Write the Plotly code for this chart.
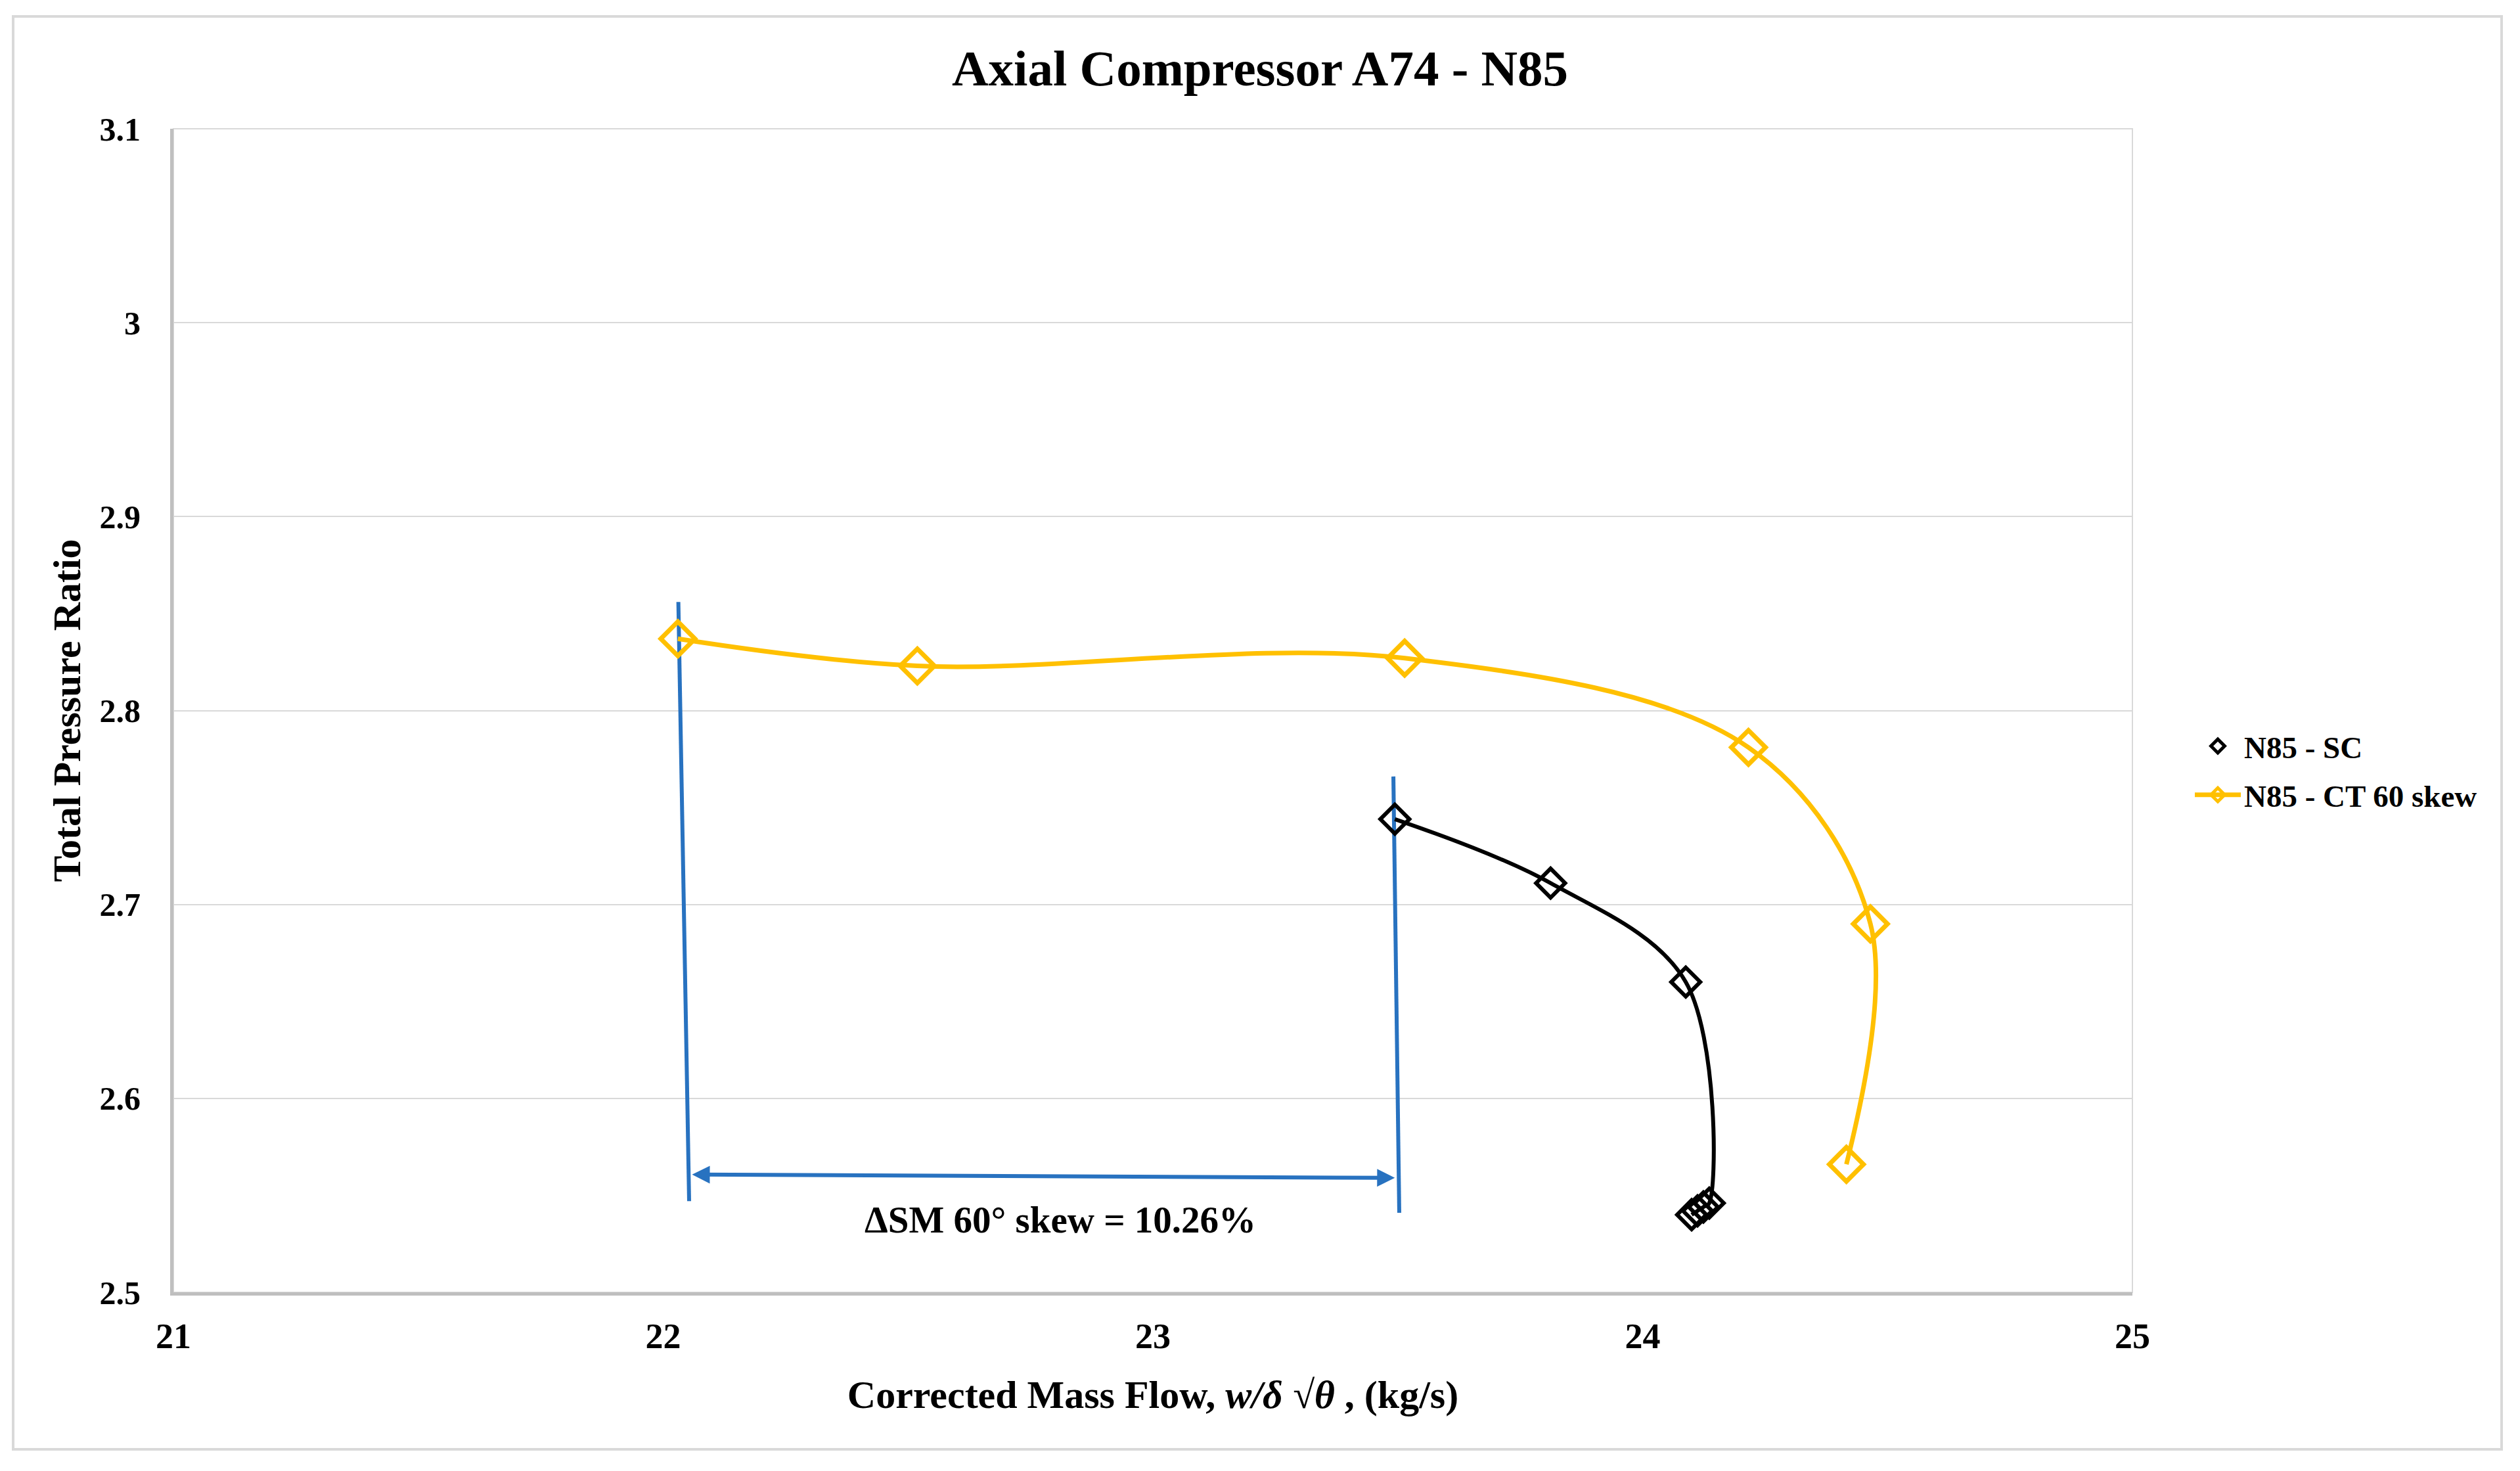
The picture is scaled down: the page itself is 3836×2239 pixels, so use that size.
import plotly.graph_objects as go

# ---- data ----
sc_flow = [23.494, 23.812, 24.088, 24.136, 24.124, 24.112, 24.100]
sc_pr = [2.744, 2.711, 2.660, 2.546, 2.544, 2.542, 2.540]

ct_flow = [22.030, 22.519, 23.514, 24.216, 24.465, 24.416]
ct_pr = [2.837, 2.823, 2.827, 2.781, 2.690, 2.566]

surge_x_ct = [22.031, 22.053]
surge_y_ct = [2.856, 2.547]
surge_x_sc = [23.491, 23.503]
surge_y_sc = [2.766, 2.541]

arrow_x = [22.057, 23.494]
arrow_y = [2.5607, 2.559]
label_x = 22.811
label_y = 2.5375
label_text = "ΔSM 60° skew = 10.26%"

x_ticks = [21, 22, 23, 24, 25]
y_ticks = [2.5, 2.6, 2.7, 2.8, 2.9, 3.0, 3.1]

ORANGE = "#FFC000"
BLUE = "#2872C0"
FONT = "Liberation Serif"

W, H = 3836, 2239
L, R, T, B = 264, 590, 196, 272
pw, ph = W - L - R, H - T - B

fig = go.Figure()

# surge lines
for sx, sy in [(surge_x_ct, surge_y_ct), (surge_x_sc, surge_y_sc)]:
    fig.add_trace(go.Scatter(x=sx, y=sy, mode="lines",
                             line=dict(color=BLUE, width=6),
                             showlegend=False, hoverinfo="skip"))

# SC line (no legend), SC markers (legend)
fig.add_trace(go.Scatter(x=sc_flow, y=sc_pr, mode="lines",
                         line=dict(color="black", width=6, shape="spline", smoothing=1.0),
                         showlegend=False, legendgroup="sc"))
fig.add_trace(go.Scatter(x=sc_flow, y=sc_pr, mode="markers", name="N85 - SC",
                         legendgroup="sc",
                         marker=dict(symbol="diamond-open", size=34, color="black",
                                     line=dict(width=6, color="black"))))
fig.add_trace(go.Scatter(x=ct_flow, y=ct_pr, mode="lines+markers", name="N85 - CT 60 skew",
                         legendgroup="ct",
                         line=dict(color=ORANGE, width=7, shape="spline", smoothing=1.0),
                         marker=dict(symbol="diamond-open", size=40, color=ORANGE,
                                     line=dict(width=7, color=ORANGE))))

# double-headed arrow
fig.add_annotation(x=arrow_x[1], y=arrow_y[1], ax=arrow_x[0], ay=arrow_y[0],
                   xref="x", yref="y", axref="x", ayref="y", text="",
                   showarrow=True, arrowhead=2, startarrowhead=2, arrowside="end+start",
                   arrowwidth=6, arrowsize=0.9, startarrowsize=0.9, arrowcolor=BLUE)
fig.add_annotation(x=label_x, y=label_y, xref="x", yref="y", text=label_text,
                   showarrow=False,
                   font=dict(family=FONT, size=57, color="black", weight="bold"))

# outer frame and plot-area frame
fig.add_shape(type="rect", xref="paper", yref="paper",
              x0=(20 - L) / pw, x1=(3808 - L) / pw,
              y0=(H - B - 2206) / ph, y1=(H - B - 25) / ph,
              line=dict(color="#D9D9D9", width=4), layer="below")
fig.add_shape(type="rect", xref="paper", yref="paper", x0=0, x1=1, y0=0, y1=1,
              line=dict(color="#D9D9D9", width=2), layer="below")

fig.update_layout(
    width=W, height=H,
    margin=dict(l=L, r=R, t=T, b=B, autoexpand=False),
    paper_bgcolor="white", plot_bgcolor="white",
    title=dict(text="Axial Compressor A74 - N85", x=0.5, xref="container",
               xanchor="center", y=1 - 103 / H, yref="container", yanchor="middle",
               font=dict(family=FONT, size=77, color="black", weight="bold")),
    font=dict(family=FONT, color="black"),
    legend=dict(x=(3336 - L) / pw, y=(H - B - 1173) / ph, xanchor="left", yanchor="middle",
                font=dict(family=FONT, size=47, color="black", weight="bold"),
                tracegroupgap=10, itemwidth=70, bgcolor="rgba(0,0,0,0)"),
    xaxis=dict(range=[21, 25], tickvals=x_ticks, showgrid=False, zeroline=False,
               showline=True, linecolor="#BFBFBF", linewidth=5,
               ticks="", ticklabelstandoff=15,
               tickfont=dict(family=FONT, size=54, color="black", weight="bold"),
               title=dict(text="Corrected Mass Flow, <i>w/δ √θ</i> , (kg/s)", standoff=40,
                          font=dict(family=FONT, size=60, color="black", weight="bold"))),
    yaxis=dict(range=[2.5, 3.1], tickvals=y_ticks, showgrid=True, gridcolor="#D9D9D9",
               gridwidth=2, zeroline=False, showline=True, linecolor="#BFBFBF", linewidth=5,
               ticks="", ticklabelstandoff=35,
               tickfont=dict(family=FONT, size=50, color="black", weight="bold"),
               title=dict(text="Total Pressure Ratio", standoff=11,
                          font=dict(family=FONT, size=60, color="black", weight="bold"))),
)

fig.write_html("out.html")
